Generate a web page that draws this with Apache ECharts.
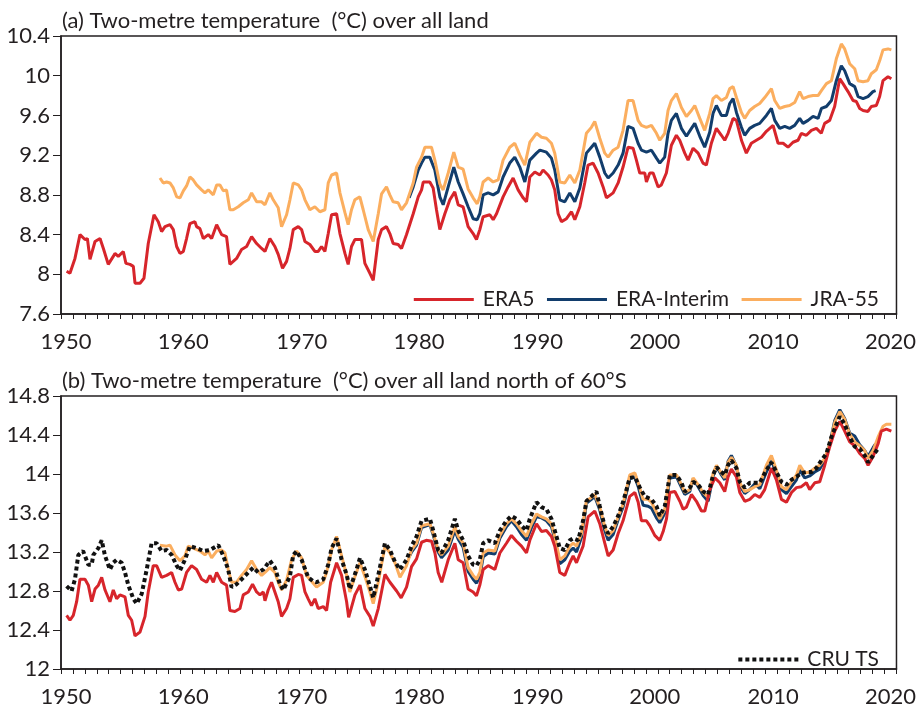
<!DOCTYPE html>
<html>
<head>
<meta charset="utf-8">
<script src="https://cdn.jsdelivr.net/npm/echarts@6/dist/echarts.min.js"></script>
<style>
html,body{margin:0;padding:0;background:#fff;}
#chart{width:919px;height:708px;}
</style>
</head>
<body>
<div id="chart"></div>
<script>
// ---------- DATA (year, °C) ----------
const titleA = "(a) Two-metre temperature  (°C) over all land";
const titleB = "(b) Two-metre temperature  (°C) over all land north of 60°S";
const yearTicks = [1950, 1960, 1970, 1980, 1990, 2000, 2010, 2020];
const seriesNames = ["ERA5", "ERA-Interim", "JRA-55", "CRU TS"];

// Panel (a): all land
const a_era5 = [
[1950.47,8.03],[1950.75,8.01],[1951.17,8.16],[1951.59,8.40],[1952.01,8.35],[1952.21,8.36],[1952.43,8.15],[1952.85,8.33],
[1953.27,8.36],[1953.55,8.26],[1953.96,8.10],[1954.38,8.18],[1954.52,8.21],[1954.80,8.18],[1955.22,8.23],[1955.44,8.11],
[1955.78,8.10],[1956.06,8.08],[1956.20,7.91],[1956.62,7.91],[1956.95,7.96],[1957.31,8.31],[1957.79,8.60],[1958.15,8.53],
[1958.43,8.43],[1958.71,8.48],[1959.13,8.50],[1959.41,8.45],[1959.69,8.28],[1959.97,8.21],[1960.25,8.23],[1960.52,8.36],
[1960.80,8.51],[1961.22,8.53],[1961.36,8.48],[1961.64,8.46],[1961.92,8.36],[1962.34,8.40],[1962.62,8.36],[1963.04,8.50],
[1963.46,8.40],[1963.87,8.38],[1964.15,8.10],[1964.43,8.13],[1964.71,8.16],[1965.13,8.25],[1965.55,8.28],[1965.97,8.38],
[1966.39,8.31],[1966.81,8.26],[1967.09,8.23],[1967.50,8.36],[1967.92,8.28],[1968.20,8.20],[1968.56,8.06],[1968.90,8.13],
[1969.18,8.26],[1969.46,8.45],[1969.88,8.48],[1970.16,8.45],[1970.44,8.33],[1970.85,8.30],[1971.27,8.23],[1971.55,8.23],
[1971.83,8.28],[1972.11,8.23],[1972.39,8.41],[1972.67,8.60],[1973.09,8.61],[1973.37,8.41],[1973.79,8.21],[1974.06,8.10],
[1974.34,8.28],[1974.62,8.35],[1975.18,8.35],[1975.46,8.11],[1975.88,8.01],[1976.16,7.94],[1976.58,8.35],[1976.86,8.45],
[1977.27,8.48],[1977.55,8.41],[1977.83,8.31],[1978.25,8.30],[1978.53,8.26],[1978.95,8.40],[1979.51,8.61],[1979.93,8.78],
[1980.21,8.85],[1980.35,8.93],[1980.90,8.93],[1981.18,8.87],[1981.46,8.65],[1981.74,8.45],[1982.16,8.61],[1982.58,8.75],
[1982.99,8.83],[1983.28,8.70],[1983.69,8.68],[1984.11,8.48],[1984.53,8.41],[1984.81,8.35],[1985.09,8.45],[1985.37,8.58],
[1985.93,8.60],[1986.21,8.55],[1986.49,8.61],[1987.04,8.78],[1987.46,8.88],[1987.88,8.97],[1988.30,8.85],[1988.72,8.77],
[1989.00,8.73],[1989.28,8.98],[1989.70,9.03],[1990.12,9.00],[1990.39,9.05],[1990.81,9.00],[1991.09,8.95],[1991.37,8.85],
[1991.65,8.61],[1991.93,8.53],[1992.35,8.56],[1992.77,8.63],[1993.05,8.55],[1993.47,8.68],[1993.88,8.92],[1994.16,9.10],
[1994.58,9.12],[1995.00,9.02],[1995.42,8.88],[1995.70,8.77],[1996.26,8.82],[1996.68,8.92],[1997.09,9.08],[1997.51,9.28],
[1997.93,9.27],[1998.21,9.15],[1998.49,9.02],[1998.91,9.02],[1999.05,8.93],[1999.33,9.02],[1999.61,9.02],[2000.03,8.88],
[2000.30,8.90],[2000.72,9.02],[2001.14,9.30],[2001.56,9.40],[2001.84,9.35],[2002.26,9.22],[2002.54,9.15],[2002.96,9.27],
[2003.38,9.22],[2003.79,9.12],[2004.07,9.10],[2004.49,9.32],[2004.91,9.47],[2005.33,9.40],[2005.61,9.35],[2005.89,9.42],
[2006.31,9.57],[2006.59,9.55],[2007.01,9.35],[2007.42,9.22],[2007.84,9.32],[2008.26,9.35],[2008.68,9.38],[2009.10,9.44],
[2009.66,9.50],[2010.08,9.32],[2010.50,9.32],[2010.91,9.28],[2011.33,9.33],[2011.75,9.35],[2012.03,9.42],[2012.45,9.40],
[2012.87,9.45],[2013.29,9.47],[2013.70,9.42],[2013.98,9.52],[2014.40,9.55],[2014.82,9.69],[2015.24,9.97],[2015.52,9.92],
[2015.94,9.84],[2016.36,9.75],[2016.64,9.74],[2016.92,9.67],[2017.20,9.65],[2017.61,9.64],[2017.89,9.69],[2018.31,9.70],
[2018.59,9.79],[2018.87,9.95],[2019.29,9.99],[2019.57,9.97]
];
const a_erai = [
[1979.17,8.77],[1979.51,8.88],[1979.93,9.05],[1980.21,9.12],[1980.49,9.18],[1980.90,9.18],[1981.32,9.05],[1981.74,8.78],
[1982.02,8.70],[1982.44,8.88],[1982.91,9.08],[1983.28,8.93],[1983.69,8.81],[1984.11,8.68],[1984.53,8.56],[1984.87,8.55],
[1985.09,8.61],[1985.37,8.80],[1985.79,8.82],[1986.21,8.80],[1986.63,8.83],[1987.04,8.98],[1987.60,9.12],[1988.02,9.18],
[1988.44,9.08],[1988.86,8.93],[1989.28,9.15],[1989.84,9.22],[1990.12,9.25],[1990.67,9.23],[1991.09,9.17],[1991.37,9.05],
[1991.79,8.75],[1992.21,8.73],[1992.63,8.82],[1993.05,8.73],[1993.47,8.87],[1994.02,9.22],[1994.44,9.28],[1994.72,9.32],
[1995.14,9.18],[1995.56,9.02],[1995.84,8.97],[1996.26,9.02],[1996.68,9.10],[1997.09,9.22],[1997.51,9.49],[1997.93,9.47],
[1998.35,9.32],[1998.63,9.25],[1999.05,9.23],[1999.47,9.25],[1999.89,9.17],[2000.17,9.12],[2000.58,9.18],[2000.86,9.42],
[2001.14,9.55],[2001.56,9.62],[2001.98,9.47],[2002.40,9.39],[2002.82,9.47],[2003.10,9.52],[2003.52,9.39],[2003.93,9.28],
[2004.35,9.43],[2004.63,9.62],[2004.91,9.70],[2005.33,9.60],[2005.75,9.60],[2006.03,9.72],[2006.31,9.77],[2006.59,9.63],
[2007.01,9.48],[2007.28,9.40],[2007.70,9.47],[2008.12,9.50],[2008.54,9.52],[2009.10,9.60],[2009.52,9.67],[2009.80,9.55],
[2010.22,9.47],[2010.64,9.49],[2011.05,9.47],[2011.47,9.50],[2011.89,9.57],[2012.17,9.52],[2012.59,9.55],[2013.01,9.59],
[2013.43,9.57],[2013.71,9.67],[2014.13,9.69],[2014.55,9.75],[2014.96,9.95],[2015.38,10.10],[2015.66,10.05],[2016.08,9.92],
[2016.50,9.89],[2016.78,9.79],[2017.20,9.77],[2017.61,9.79],[2018.03,9.84],[2018.25,9.85]
];
const a_jra55 = [
[1958.29,8.97],[1958.57,8.92],[1958.85,8.93],[1959.13,8.92],[1959.41,8.87],[1959.69,8.78],[1959.97,8.77],[1960.25,8.84],
[1960.52,8.89],[1960.80,8.98],[1961.08,8.95],[1961.36,8.90],[1961.78,8.85],[1962.06,8.82],[1962.34,8.85],[1962.76,8.80],
[1963.04,8.90],[1963.32,8.90],[1963.60,8.84],[1963.87,8.85],[1964.15,8.65],[1964.43,8.65],[1964.85,8.68],[1965.27,8.72],
[1965.69,8.75],[1965.97,8.82],[1966.39,8.73],[1966.81,8.73],[1967.09,8.70],[1967.50,8.82],[1967.78,8.75],[1968.20,8.67],
[1968.48,8.48],[1968.90,8.60],[1969.18,8.75],[1969.46,8.92],[1969.88,8.90],[1970.16,8.85],[1970.44,8.75],[1970.85,8.65],
[1971.27,8.68],[1971.69,8.63],[1972.11,8.65],[1972.39,8.92],[1972.67,9.00],[1973.09,9.02],[1973.37,8.82],[1973.79,8.62],
[1974.06,8.50],[1974.34,8.65],[1974.62,8.75],[1975.04,8.78],[1975.32,8.65],[1975.74,8.45],[1976.16,8.33],[1976.58,8.61],
[1976.86,8.81],[1977.27,8.88],[1977.55,8.80],[1977.83,8.73],[1978.25,8.72],[1978.53,8.65],[1978.95,8.72],[1979.51,8.92],
[1979.79,9.08],[1980.21,9.18],[1980.49,9.28],[1981.04,9.28],[1981.32,9.15],[1981.74,8.91],[1982.02,8.85],[1982.44,9.02],
[1982.91,9.23],[1983.28,9.08],[1983.69,9.06],[1984.11,8.86],[1984.53,8.77],[1984.87,8.71],[1985.09,8.78],[1985.37,8.93],
[1985.79,8.97],[1986.21,8.93],[1986.63,8.95],[1987.04,9.15],[1987.60,9.28],[1988.02,9.32],[1988.44,9.20],[1988.86,9.10],
[1989.28,9.33],[1989.84,9.42],[1990.26,9.38],[1990.67,9.37],[1991.09,9.32],[1991.37,9.22],[1991.79,8.93],[1992.21,8.92],
[1992.63,9.00],[1993.05,8.92],[1993.47,9.05],[1994.02,9.42],[1994.44,9.48],[1994.72,9.54],[1995.14,9.37],[1995.56,9.22],
[1995.84,9.18],[1996.26,9.25],[1996.68,9.28],[1997.09,9.45],[1997.51,9.75],[1997.93,9.75],[1998.35,9.55],[1998.63,9.50],
[1999.05,9.48],[1999.47,9.50],[1999.89,9.42],[2000.17,9.35],[2000.58,9.42],[2000.86,9.65],[2001.14,9.75],[2001.56,9.82],
[2001.98,9.68],[2002.40,9.59],[2002.82,9.65],[2003.10,9.70],[2003.52,9.57],[2003.93,9.45],[2004.35,9.62],[2004.63,9.77],
[2004.91,9.80],[2005.33,9.75],[2005.75,9.78],[2006.03,9.87],[2006.31,9.89],[2006.59,9.78],[2007.01,9.63],[2007.28,9.57],
[2007.70,9.65],[2008.12,9.69],[2008.54,9.72],[2008.96,9.78],[2009.52,9.87],[2009.80,9.75],[2010.22,9.67],[2010.64,9.69],
[2011.05,9.70],[2011.47,9.73],[2011.89,9.84],[2012.17,9.77],[2012.59,9.79],[2013.01,9.80],[2013.43,9.80],[2013.71,9.85],
[2014.13,9.92],[2014.55,9.95],[2014.96,10.17],[2015.38,10.32],[2015.66,10.27],[2016.08,10.12],[2016.50,10.07],[2016.78,9.95],
[2017.20,9.94],[2017.61,9.95],[2017.89,10.02],[2018.31,10.06],[2018.59,10.15],[2018.87,10.26],[2019.29,10.27],[2019.57,10.26]
];

// Panel (b): all land north of 60°S
const b_era5 = [
[1950.47,12.55],[1950.75,12.50],[1951.03,12.55],[1951.31,12.69],[1951.59,12.92],[1952.01,12.92],[1952.29,12.86],[1952.57,12.69],
[1952.85,12.82],[1953.13,12.86],[1953.41,12.94],[1953.69,12.81],[1954.10,12.69],[1954.38,12.81],[1954.66,12.72],[1954.94,12.76],
[1955.36,12.74],[1955.64,12.55],[1955.92,12.50],[1956.20,12.34],[1956.62,12.38],[1957.04,12.54],[1957.31,12.79],[1957.73,13.06],
[1958.01,13.06],[1958.43,12.94],[1958.85,12.96],[1959.27,12.99],[1959.55,12.89],[1959.83,12.81],[1960.11,12.82],[1960.52,12.99],
[1960.94,13.06],[1961.36,13.02],[1961.78,12.92],[1962.20,12.89],[1962.48,12.96],[1962.76,12.89],[1963.04,12.99],[1963.46,12.89],
[1963.87,12.86],[1964.15,12.60],[1964.57,12.59],[1964.99,12.62],[1965.27,12.76],[1965.69,12.79],[1966.05,12.87],[1966.39,12.79],
[1966.67,12.76],[1966.95,12.79],[1967.09,12.70],[1967.36,12.81],[1967.64,12.89],[1967.92,12.79],[1968.20,12.69],[1968.48,12.54],
[1968.90,12.62],[1969.18,12.72],[1969.46,12.94],[1969.88,12.97],[1970.16,12.96],[1970.44,12.79],[1970.71,12.72],[1970.99,12.65],
[1971.27,12.72],[1971.55,12.62],[1971.97,12.64],[1972.25,12.60],[1972.59,12.89],[1973.09,13.09],[1973.51,12.96],[1973.93,12.69],
[1974.10,12.53],[1974.63,12.76],[1975.05,12.86],[1975.46,12.62],[1975.88,12.54],[1976.16,12.44],[1976.58,12.62],[1977.14,12.97],
[1977.56,12.89],[1978.12,12.80],[1978.50,12.73],[1978.95,12.84],[1979.37,13.05],[1979.79,13.13],[1980.21,13.30],[1980.60,13.32],
[1981.05,13.31],[1981.33,13.19],[1981.60,12.99],[1981.90,12.89],[1982.44,13.12],[1983.00,13.29],[1983.28,13.12],[1983.69,13.09],
[1984.11,12.82],[1984.53,12.79],[1984.81,12.75],[1985.09,12.86],[1985.37,13.02],[1985.79,13.06],[1986.35,13.02],[1986.77,13.19],
[1987.32,13.29],[1987.74,13.37],[1988.16,13.31],[1988.58,13.26],[1989.00,13.19],[1989.28,13.32],[1989.84,13.49],[1990.26,13.41],
[1990.67,13.42],[1991.09,13.36],[1991.37,13.26],[1991.79,12.99],[1992.21,12.96],[1992.63,13.09],[1992.91,13.16],[1993.19,13.09],
[1993.74,13.26],[1994.16,13.56],[1994.72,13.62],[1995.14,13.49],[1995.56,13.29],[1995.84,13.16],[1996.26,13.22],[1996.68,13.39],
[1997.09,13.52],[1997.65,13.77],[1998.08,13.81],[1998.36,13.71],[1998.63,13.52],[1999.05,13.52],[1999.33,13.47],[1999.75,13.37],
[2000.17,13.32],[2000.45,13.41],[2000.73,13.54],[2001.01,13.81],[2001.43,13.82],[2001.85,13.72],[2002.12,13.64],[2002.40,13.66],
[2002.82,13.79],[2003.24,13.72],[2003.66,13.62],[2003.94,13.62],[2004.36,13.84],[2004.78,13.96],[2005.20,13.91],[2005.61,13.82],
[2005.89,13.97],[2006.17,14.05],[2006.59,13.97],[2006.87,13.81],[2007.29,13.72],[2007.71,13.74],[2008.13,13.79],[2008.55,13.76],
[2008.96,13.84],[2009.52,14.06],[2009.94,13.94],[2010.36,13.74],[2010.78,13.71],[2011.20,13.81],[2011.62,13.86],[2012.03,13.87],
[2012.45,13.91],[2012.73,13.84],[2013.15,13.91],[2013.57,13.92],[2013.99,14.09],[2014.41,14.28],[2014.83,14.44],[2015.25,14.54],
[2015.66,14.44],[2016.08,14.33],[2016.50,14.29],[2016.92,14.21],[2017.34,14.16],[2017.62,14.09],[2018.04,14.18],[2018.46,14.31],
[2018.73,14.44],[2019.15,14.46],[2019.57,14.44]
];
const b_erai = [
[1979.17,13.15],[1979.37,13.20],[1979.79,13.27],[1980.21,13.45],[1980.91,13.48],[1981.19,13.37],[1981.60,13.20],[1981.88,13.14],
[1982.44,13.22],[1983.00,13.42],[1983.28,13.33],[1983.69,13.25],[1984.11,13.00],[1984.53,12.92],[1984.81,12.88],[1985.09,12.95],
[1985.37,13.15],[1985.79,13.19],[1986.35,13.18],[1986.77,13.34],[1987.32,13.46],[1987.74,13.52],[1988.16,13.46],[1988.58,13.38],
[1989.00,13.32],[1989.42,13.45],[1989.84,13.56],[1990.26,13.55],[1990.67,13.52],[1991.09,13.46],[1991.37,13.33],[1991.79,13.08],
[1992.21,13.12],[1992.63,13.21],[1992.91,13.24],[1993.19,13.20],[1993.61,13.35],[1994.02,13.70],[1994.44,13.74],[1994.72,13.77],
[1995.14,13.63],[1995.56,13.42],[1995.84,13.32],[1996.26,13.38],[1996.68,13.53],[1997.09,13.66],[1997.65,13.95],[1998.08,13.97],
[1998.36,13.87],[1998.77,13.68],[1999.19,13.67],[1999.47,13.65],[1999.89,13.55],[2000.17,13.50],[2000.59,13.60],[2001.01,13.96],
[2001.57,13.97],[2001.99,13.86],[2002.26,13.79],[2002.68,13.82],[2002.96,13.95],[2003.38,13.87],[2003.80,13.78],[2004.22,13.72],
[2004.64,13.98],[2004.92,14.08],[2005.33,13.99],[2005.61,13.94],[2005.89,14.13],[2006.17,14.19],[2006.59,14.08],[2006.87,13.88],
[2007.29,13.80],[2007.71,13.84],[2008.13,13.90],[2008.55,13.85],[2009.10,14.02],[2009.52,14.14],[2009.94,14.00],[2010.36,13.84],
[2010.78,13.80],[2011.20,13.87],[2011.62,13.94],[2011.90,14.04],[2012.31,13.96],[2012.73,13.98],[2013.15,14.02],[2013.57,14.05],
[2013.99,14.14],[2014.41,14.31],[2014.83,14.55],[2015.25,14.66],[2015.66,14.57],[2016.08,14.42],[2016.50,14.39],[2016.92,14.30],
[2017.34,14.24],[2017.62,14.18],[2018.04,14.27],[2018.25,14.31]
];
const b_jra55 = [
[1958.29,13.27],[1958.85,13.26],[1959.13,13.27],[1959.55,13.17],[1959.97,13.11],[1960.38,13.16],[1960.66,13.26],[1961.08,13.24],
[1961.64,13.21],[1962.06,13.17],[1962.34,13.21],[1962.62,13.14],[1963.04,13.21],[1963.46,13.22],[1963.74,13.19],[1964.01,13.02],
[1964.29,12.89],[1964.71,12.89],[1965.13,12.96],[1965.55,13.02],[1965.97,13.11],[1966.39,13.02],[1966.81,12.96],[1967.09,12.99],
[1967.50,13.04],[1967.92,12.99],[1968.20,12.89],[1968.48,12.81],[1968.90,12.91],[1969.32,13.12],[1969.74,13.21],[1970.16,13.14],
[1970.57,12.96],[1970.99,12.90],[1971.41,12.84],[1971.97,12.89],[1972.25,12.99],[1972.67,13.22],[1973.09,13.36],[1973.51,13.16],
[1973.93,12.96],[1974.20,12.79],[1974.63,12.95],[1975.05,13.09],[1975.46,12.95],[1975.88,12.79],[1976.16,12.67],[1976.58,12.89],
[1977.14,13.26],[1977.56,13.19],[1977.98,13.09],[1978.40,12.94],[1978.95,13.06],[1979.37,13.22],[1979.79,13.29],[1980.21,13.47],
[1980.91,13.49],[1981.19,13.39],[1981.60,13.22],[1981.88,13.17],[1982.44,13.26],[1983.00,13.46],[1983.28,13.36],[1983.69,13.29],
[1984.11,13.04],[1984.53,12.96],[1984.81,12.92],[1985.09,12.99],[1985.37,13.19],[1985.79,13.22],[1986.35,13.21],[1986.77,13.37],
[1987.32,13.49],[1987.74,13.54],[1988.16,13.49],[1988.58,13.42],[1989.00,13.36],[1989.42,13.49],[1989.84,13.59],[1990.26,13.56],
[1990.67,13.54],[1991.09,13.49],[1991.37,13.36],[1991.79,13.12],[1992.21,13.16],[1992.63,13.26],[1992.91,13.29],[1993.19,13.26],
[1993.61,13.39],[1994.02,13.72],[1994.44,13.76],[1994.72,13.79],[1995.14,13.66],[1995.56,13.46],[1995.84,13.37],[1996.26,13.42],
[1996.68,13.56],[1997.09,13.69],[1997.65,13.99],[1998.08,14.01],[1998.36,13.91],[1998.77,13.74],[1999.19,13.74],[1999.47,13.71],
[1999.89,13.61],[2000.17,13.54],[2000.59,13.64],[2001.01,13.99],[2001.57,13.99],[2001.99,13.89],[2002.26,13.81],[2002.68,13.84],
[2002.96,13.96],[2003.38,13.89],[2003.80,13.81],[2004.22,13.76],[2004.64,14.01],[2004.92,14.09],[2005.33,14.01],[2005.61,13.96],
[2005.89,14.12],[2006.17,14.17],[2006.59,14.09],[2006.87,13.91],[2007.29,13.82],[2007.71,13.84],[2008.13,13.87],[2008.55,13.89],
[2009.10,14.09],[2009.52,14.19],[2009.94,14.04],[2010.36,13.87],[2010.78,13.84],[2011.20,13.92],[2011.62,13.99],[2011.90,14.09],
[2012.31,14.01],[2012.73,14.02],[2013.15,14.06],[2013.57,14.09],[2013.99,14.16],[2014.41,14.31],[2014.83,14.53],[2015.25,14.64],
[2015.66,14.56],[2016.08,14.41],[2016.50,14.33],[2016.92,14.29],[2017.34,14.24],[2017.62,14.16],[2018.04,14.24],[2018.46,14.38],
[2018.88,14.49],[2019.15,14.51],[2019.57,14.51]
];
const b_cru = [
[1950.47,12.85],[1950.89,12.80],[1951.17,12.92],[1951.45,13.17],[1951.85,13.21],[1952.29,13.07],[1952.57,13.07],[1952.71,13.17],
[1953.13,13.24],[1953.41,13.32],[1953.69,13.16],[1954.10,13.02],[1954.38,13.09],[1954.66,13.12],[1955.08,13.09],[1955.36,12.99],
[1955.64,12.86],[1956.06,12.72],[1956.34,12.67],[1956.76,12.77],[1957.18,13.02],[1957.59,13.29],[1958.01,13.29],[1958.43,13.21],
[1958.85,13.22],[1959.27,13.17],[1959.69,13.06],[1959.97,13.01],[1960.38,13.12],[1960.80,13.26],[1961.36,13.24],[1961.92,13.21],
[1962.48,13.22],[1963.18,13.27],[1963.60,13.16],[1964.01,13.02],[1964.29,12.84],[1964.71,12.87],[1965.13,12.92],[1965.69,12.99],
[1966.11,13.04],[1966.53,12.99],[1966.95,13.02],[1967.50,13.11],[1967.92,13.04],[1968.34,12.87],[1968.62,12.81],[1969.18,12.95],
[1969.46,13.17],[1969.74,13.21],[1970.16,13.12],[1970.71,12.94],[1971.13,12.90],[1971.41,12.89],[1971.97,12.92],[1972.39,13.07],
[1972.67,13.24],[1973.09,13.34],[1973.51,13.12],[1973.93,12.97],[1974.20,12.82],[1974.76,13.02],[1975.05,13.14],[1975.46,13.02],
[1975.88,12.85],[1976.16,12.73],[1976.58,12.96],[1977.14,13.29],[1977.56,13.22],[1977.98,13.10],[1978.40,13.02],[1978.95,13.12],
[1979.37,13.26],[1979.79,13.36],[1980.21,13.52],[1980.91,13.54],[1981.19,13.42],[1981.60,13.22],[1981.88,13.19],[1982.44,13.32],
[1983.00,13.54],[1983.28,13.42],[1983.69,13.32],[1984.11,13.16],[1984.53,13.07],[1984.81,13.06],[1985.09,13.12],[1985.37,13.29],
[1985.79,13.32],[1986.35,13.29],[1986.77,13.42],[1987.32,13.52],[1987.74,13.57],[1988.16,13.54],[1988.58,13.47],[1989.00,13.42],
[1989.28,13.54],[1989.84,13.71],[1990.26,13.66],[1990.67,13.64],[1991.09,13.54],[1991.37,13.42],[1991.79,13.24],[1992.21,13.22],
[1992.63,13.32],[1992.91,13.34],[1993.33,13.32],[1993.74,13.52],[1994.02,13.72],[1994.44,13.77],[1994.86,13.82],[1995.14,13.67],
[1995.56,13.46],[1995.84,13.39],[1996.26,13.46],[1996.68,13.57],[1997.09,13.71],[1997.65,13.96],[1998.08,13.97],[1998.50,13.86],
[1998.91,13.77],[1999.47,13.74],[1999.89,13.67],[2000.17,13.57],[2000.59,13.67],[2001.01,13.99],[2001.57,13.99],[2001.99,13.91],
[2002.26,13.82],[2002.68,13.86],[2002.96,13.92],[2003.38,13.89],[2003.80,13.82],[2004.22,13.79],[2004.64,13.99],[2004.92,14.07],
[2005.33,14.02],[2005.61,13.99],[2005.89,14.09],[2006.17,14.14],[2006.59,14.06],[2006.87,13.92],[2007.29,13.86],[2007.71,13.91],
[2008.13,13.91],[2008.55,13.91],[2009.10,14.04],[2009.52,14.12],[2009.94,14.02],[2010.36,13.92],[2010.78,13.89],[2011.20,13.94],
[2011.62,13.97],[2012.03,14.01],[2012.45,14.02],[2012.87,14.02],[2013.29,14.06],[2013.71,14.14],[2014.13,14.21],[2014.55,14.38],
[2014.97,14.51],[2015.25,14.59],[2015.66,14.51],[2016.08,14.38],[2016.50,14.28],[2016.92,14.26],[2017.34,14.19],[2017.62,14.12],
[2018.04,14.19],[2018.46,14.26]
];

// ---------- STYLE ----------
const FONT = 'Lato';
const FS = 22;
const FS_LEG = 21;
const INK = '#231f20';
const C_RED = '#d7252b', C_BLUE = '#123d6c', C_ORANGE = '#fbae5f';
// small horizontal nudges (px) of the year labels, as in the original figure
const labelNudge = {1950: 5, 1960: 3, 1970: 2, 1980: 0, 1990: -1, 2000: -3, 2010: -4, 2020: -6};

const rich = {};
yearTicks.forEach(function (y) {
  const d = labelNudge[y];
  rich['y' + y] = {fontFamily: FONT, fontSize: FS, color: INK,
    padding: d >= 0 ? [0, 0, 0, 2 * d] : [0, -2 * d, 0, 0]};
});

const chart = echarts.init(document.getElementById('chart'), null, {renderer: 'canvas'});

function xAxisCfg(gi) {
  return {
    type: 'value', gridIndex: gi, min: 1950, max: 2020, interval: 10,
    axisLine: {show: true, onZero: false, lineStyle: {color: INK, width: 1.5}},
    axisTick: {show: true, inside: false, length: 5, lineStyle: {color: INK, width: 1}},
    minorTick: {show: true, splitNumber: 10, length: 5, lineStyle: {color: INK, width: 1}},
    splitLine: {show: false}, minorSplitLine: {show: false},
    axisLabel: {color: INK, fontFamily: FONT, fontSize: FS, margin: 17, rich: rich,
      formatter: v => (yearTicks.indexOf(v) >= 0 ? '{y' + v + '|' + v + '}' : '')}
  };
}
function yAxisCfg(gi, mn, mx) {
  return {
    type: 'value', gridIndex: gi, min: mn, max: mx, interval: 0.4,
    axisLine: {show: true, onZero: false, lineStyle: {color: INK, width: 1.5}},
    axisTick: {show: true, inside: false, length: 8, lineStyle: {color: INK, width: 1}},
    splitLine: {show: false},
    axisLabel: {color: INK, fontFamily: FONT, fontSize: FS, margin: 11}
  };
}
function line(name, data, color, gi, extra) {
  return Object.assign({
    name: name, type: 'line', data: data, xAxisIndex: gi, yAxisIndex: gi,
    symbol: 'none', showSymbol: false, smooth: false, animation: false,
    lineStyle: {color: color, width: 3}, itemStyle: {color: color},
    emphasis: {disabled: true}
  }, extra || {});
}

const legendText = {fontFamily: FONT, fontSize: FS_LEG, color: INK, padding: [0, 0, 0, 4]};
const option = {
  backgroundColor: '#fff',
  animation: false,
  title: [
    {text: titleA, left: 57, top: 5, textStyle: {fontFamily: FONT, fontSize: FS, fontWeight: 'normal', color: INK}},
    {text: titleB, left: 57, top: 365, textStyle: {fontFamily: FONT, fontSize: FS, fontWeight: 'normal', color: INK}}
  ],
  grid: [
    {left: 61, top: 36, width: 836, height: 278, show: true, borderColor: INK, borderWidth: 1.5, backgroundColor: 'transparent'},
    {left: 61, top: 396, width: 836, height: 279, show: true, borderColor: INK, borderWidth: 1.5, backgroundColor: 'transparent'}
  ],
  xAxis: [xAxisCfg(0), xAxisCfg(1)],
  yAxis: [yAxisCfg(0, 7.6, 10.4), yAxisCfg(1, 12, 14.8)],
  legend: [
    {data: [seriesNames[0], seriesNames[1], seriesNames[2]], right: 35, top: 284, itemWidth: 60, itemHeight: 22, itemGap: 11,
     selectedMode: false, itemStyle: {opacity: 0, borderWidth: 0}, lineStyle: {width: 3}, textStyle: legendText},
    {data: [seriesNames[3]], right: 35, top: 644, itemWidth: 60, itemHeight: 22,
     selectedMode: false, itemStyle: {opacity: 0, borderWidth: 0}, lineStyle: {width: 4}, textStyle: legendText}
  ],
  series: [
    line(seriesNames[0], a_era5, C_RED, 0),
    line(seriesNames[1], a_erai, C_BLUE, 0),
    line(seriesNames[2], a_jra55, C_ORANGE, 0),
    line(seriesNames[1], b_erai, C_BLUE, 1),
    line(seriesNames[2], b_jra55, C_ORANGE, 1),
    line(seriesNames[0], b_era5, C_RED, 1),
    line(seriesNames[3], b_cru, '#111111', 1, {lineStyle: {color: '#111111', width: 4, type: [4, 3]}})
  ]
};
chart.setOption(option);
</script>
</body>
</html>
